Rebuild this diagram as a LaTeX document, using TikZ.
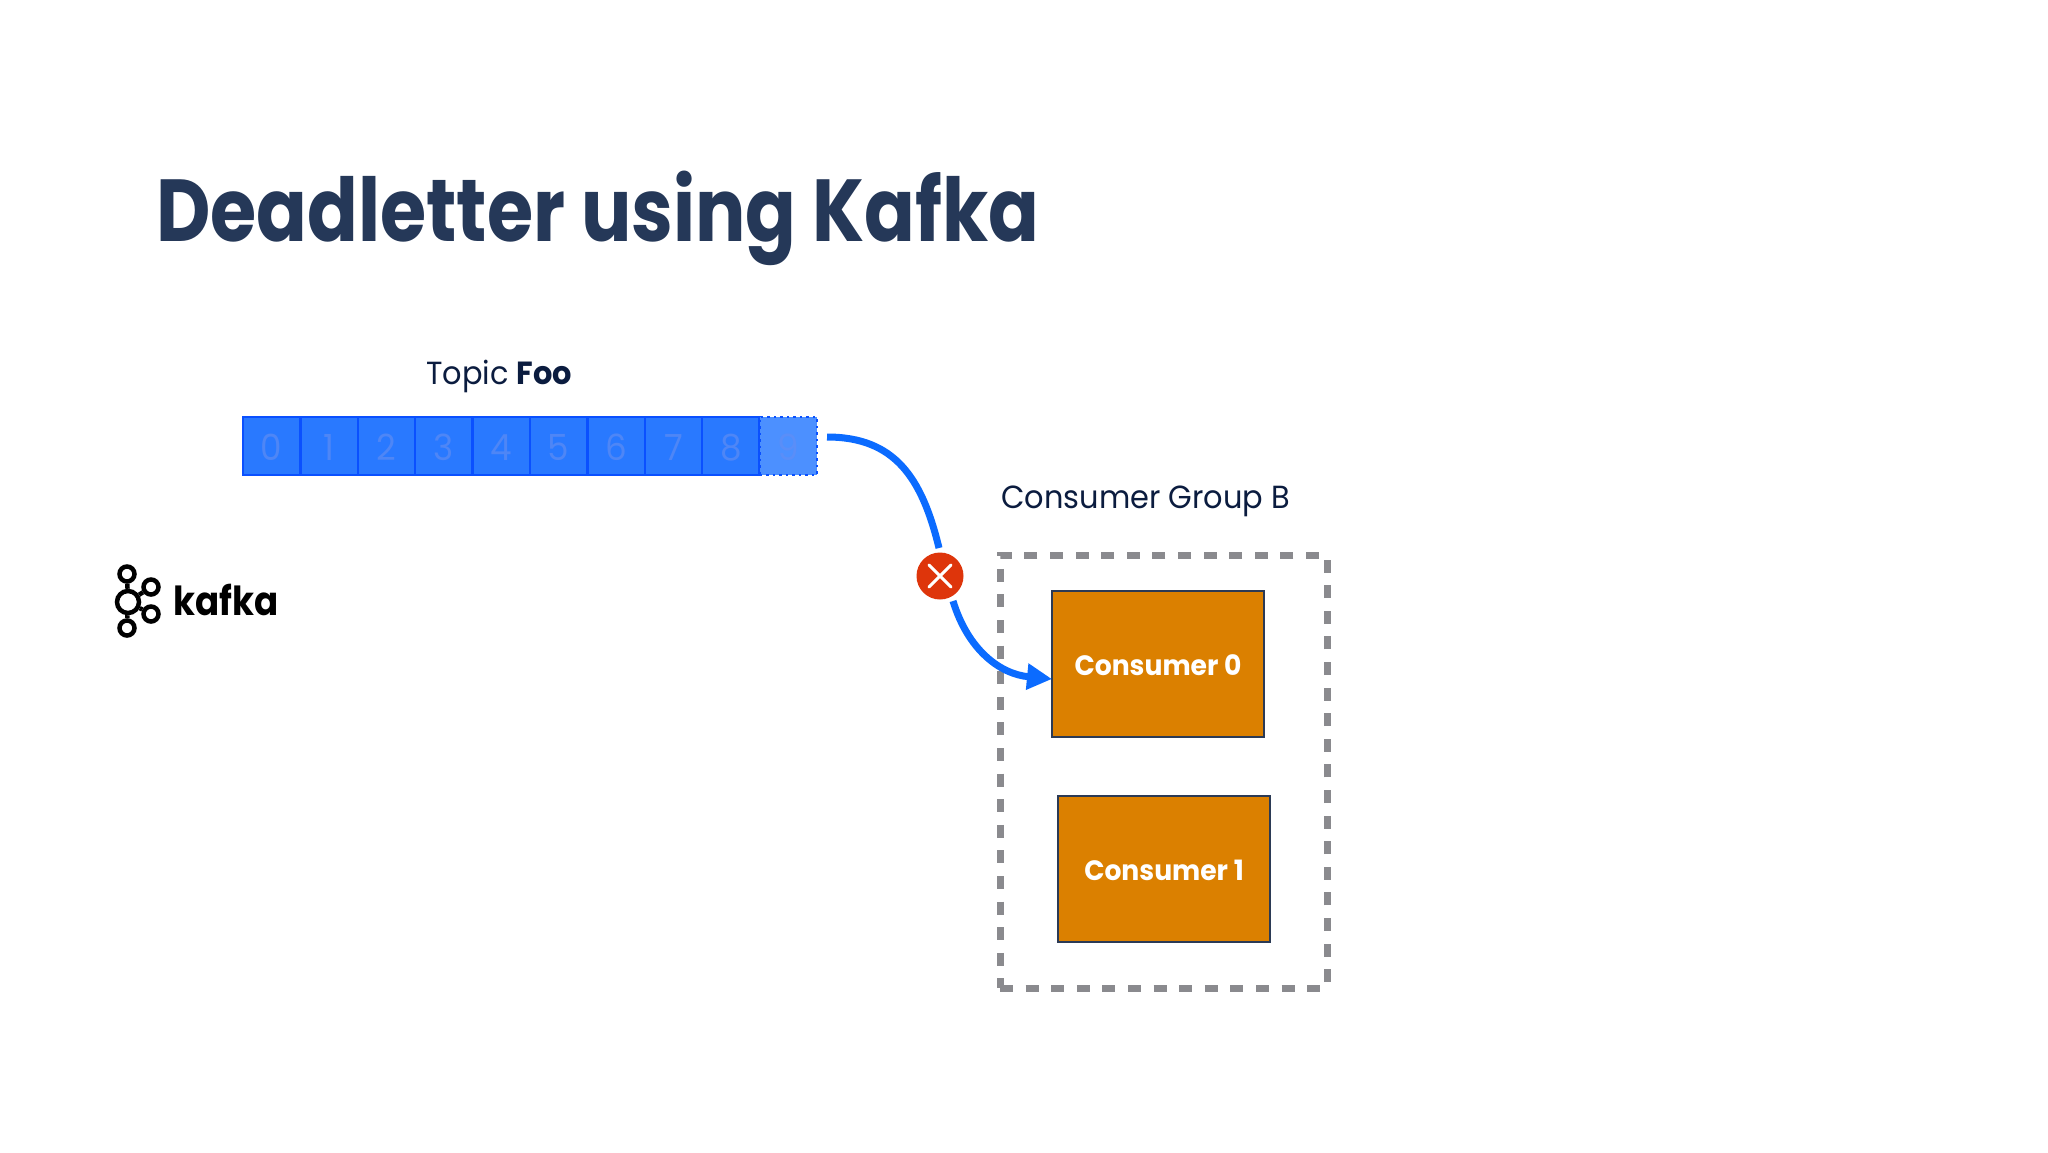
\documentclass[tikz,border=0pt]{standalone}
\usepackage{fontspec}
\setmainfont[FakeStretch=0.95]{Poppins}
\newfontfamily\titlefont[FakeStretch=0.85]{Poppins}
\newfontfamily\wordfont[FakeStretch=0.89]{Poppins}
\usetikzlibrary{arrows.meta}
\definecolor{titleblue}{HTML}{253858}
\definecolor{labelblue}{HTML}{0B1C3F}
\definecolor{cellfill}{HTML}{2979FF}
\definecolor{cellline}{HTML}{0A50FF}
\definecolor{cellnum}{HTML}{4E86F6}
\definecolor{lastfill}{HTML}{4C90FF}
\definecolor{lastnum}{HTML}{5A8EF8}
\definecolor{flowblue}{HTML}{0B6BFF}
\definecolor{stopred}{HTML}{DE350B}
\definecolor{grouprule}{HTML}{8A8A8E}
\definecolor{consfill}{HTML}{DB8000}
\definecolor{consline}{HTML}{2B3A55}
\def\px{0.5pt}
\tikzset{
  partcell/.style={draw=cellline, line width=2.5*\px, fill=cellfill, text=cellnum, minimum width=57.4*\px, minimum height=58*\px, inner sep=0pt, text height=14.5pt, text depth=0pt, font=\fontsize{18}{20}\selectfont},
  lastcell/.style={partcell, draw=cellline, dotted, fill=lastfill, text=lastnum},
  consbox/.style={draw=consline, line width=2.5*\px, fill=consfill, text=white, minimum width=212*\px, minimum height=146*\px, inner sep=0pt, text height=11pt, text depth=0pt, font=\fontsize{14}{17}\selectfont\bfseries},
  grouprect/.style={draw=grouprule, line width=7*\px, dash pattern=on 6.5pt off 6.3pt, minimum width=327*\px, minimum height=433*\px, inner sep=0pt},
  flowline/.style={draw=flowblue, line width=7*\px},
  ring/.style={draw=black, line width=4.5*\px},
}
\begin{document}
\begin{tikzpicture}[x=\px, y=-\px]
      \useasboundingbox[fill=white] (0,0) rectangle (2048,1152);
      \node[anchor=base west, inner sep=0pt, text=titleblue, font=\fontsize{44}{50}\titlefont\bfseries] (title) at (156,241) {Deadletter using Kafka};
      \node[anchor=base west, inner sep=0pt, text=labelblue, font=\fontsize{16}{20}\selectfont] (topiclabel) at (426,384) {Topic \textbf{Foo}};
      \foreach \i in {0,...,8}
        \node[partcell] (cell\i) at (243+28.7+57.4*\i,446) {\i};
      \node[lastcell] (cell9) at (243+28.7+57.4*9,446) {9};
      % consumer group
      \node[anchor=base west, inner sep=0pt, text=labelblue, font=\fontsize{16}{20}\selectfont] (grouplabel) at (1001,508) {Consumer Group B};
      \node[grouprect] (groupb) at (1163.5,771.5) {};
      \node[consbox] (cons0) at (1158,664) {Consumer 0};
      \node[consbox] (cons1) at (1164,869) {Consumer 1};
      % flow with the stop mark
      \node[circle, fill=stopred, minimum size=47*\px, inner sep=0pt] (stopmark) at (940,576) {};
      \draw[white, line width=3*\px, line cap=round] (stopmark.center) +(-11,-11) -- +(11,11) (stopmark.center) +(-11,11) -- +(11,-11);
      \coordinate (flowstart) at (827,437);
      \coordinate (flowmid) at (939,548);
      \coordinate (flowback) at (953,601);
      \coordinate (flowend) at (1052,679);
      \draw[flowline] (flowstart) .. controls (895,437) and (922,478) .. (flowmid);
      \draw[flowline, -{Triangle[length=25*\px, width=25*\px]}] (flowback) .. controls (968,650) and (1000,674) .. (flowend);
      % logo
      \node[circle, ring, minimum size=15*\px, inner sep=0pt] (hubtop) at (127,574) {};
      \node[circle, ring, minimum size=22*\px, inner sep=0pt] (hub) at (128,602) {};
      \node[circle, ring, minimum size=15*\px, inner sep=0pt] (hubup) at (151,587) {};
      \node[circle, ring, minimum size=15*\px, inner sep=0pt] (hubdown) at (151,614) {};
      \node[circle, ring, minimum size=15*\px, inner sep=0pt] (hubbottom) at (127,628) {};
      \draw[ring] (hubtop) -- (hub) (hub) -- (hubup) (hub) -- (hubdown) (hub) -- (hubbottom);
      \node[anchor=base west, inner sep=0pt, text=black, font=\fontsize{20}{24}\wordfont\bfseries] (kafkaword) at (173,615) {kafka};
\end{tikzpicture}
\end{document}
